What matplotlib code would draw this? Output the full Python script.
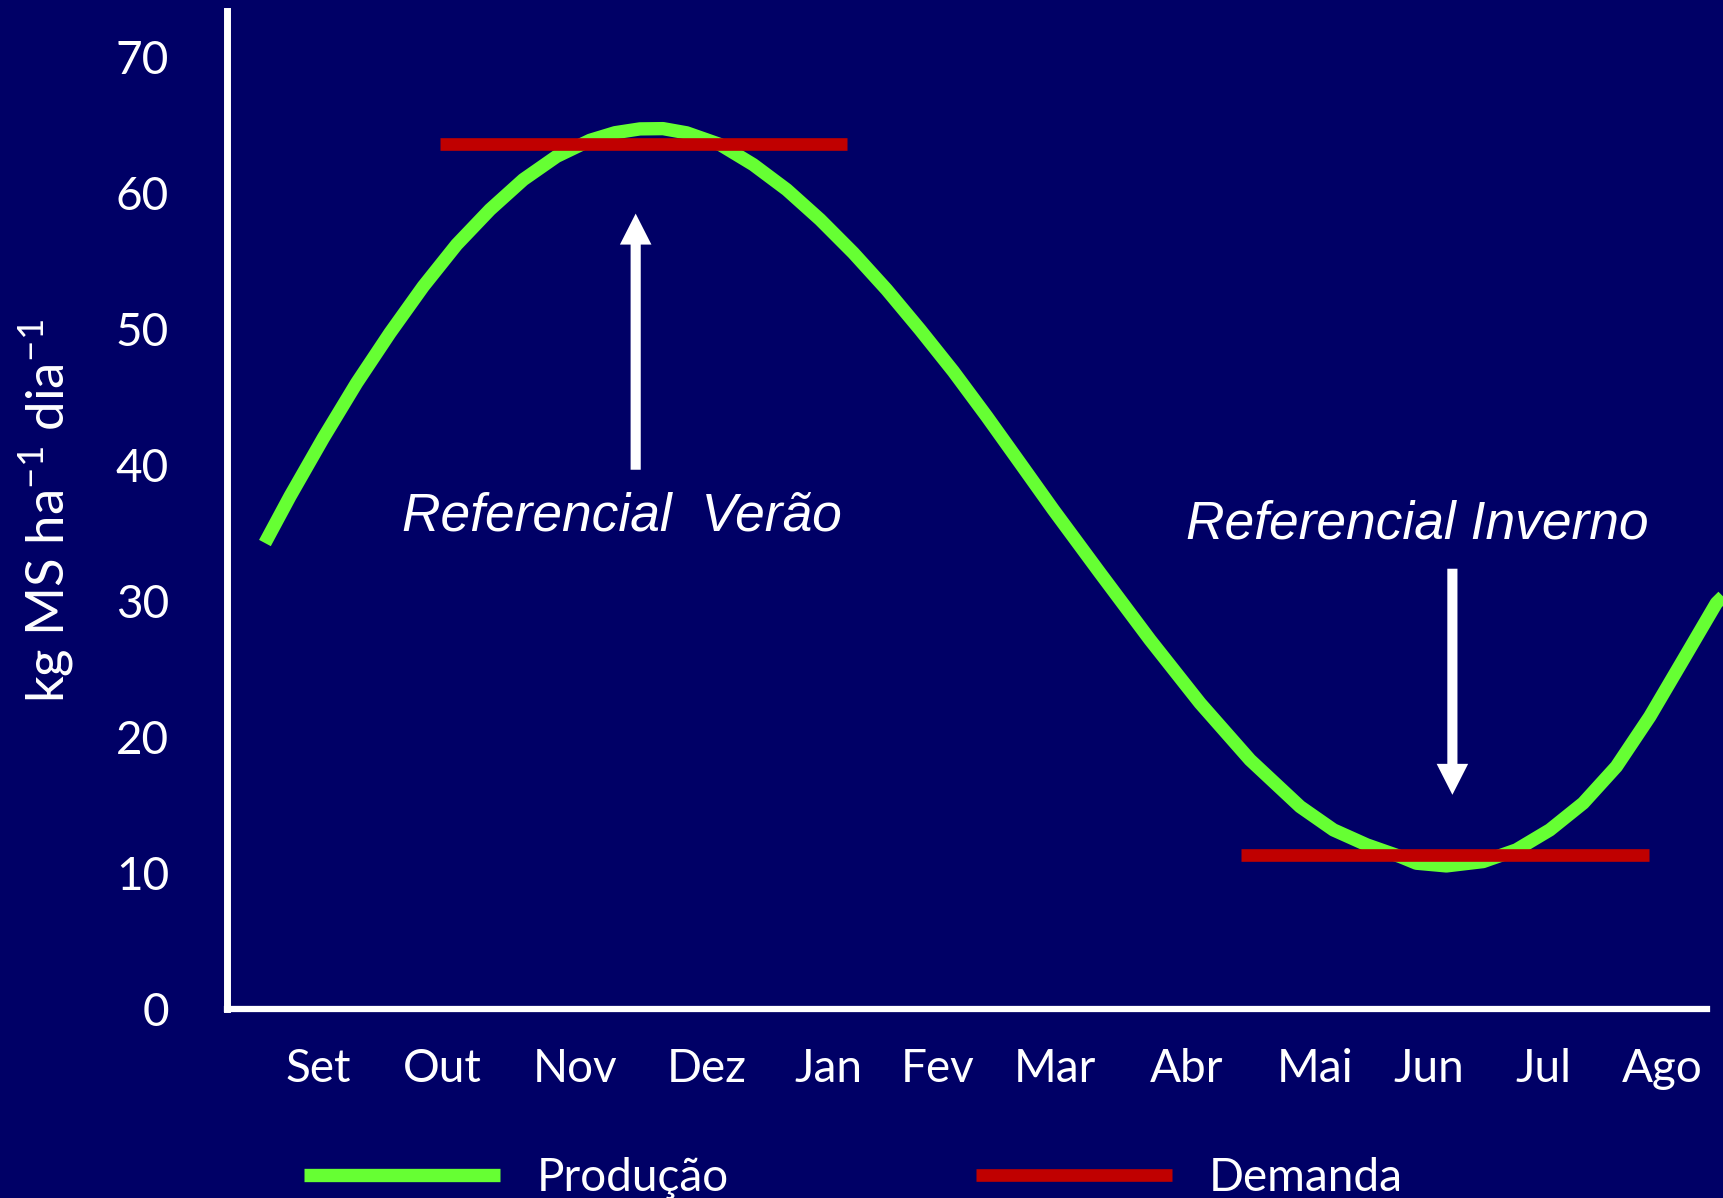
import numpy as np
import matplotlib.pyplot as plt

plt.rcParams['font.family'] = ['Lato', 'DejaVu Sans']
plt.rcParams['mathtext.fontset'] = 'custom'
plt.rcParams['mathtext.rm'] = 'Lato'

# month labels and where they sit (in month units, Set = 0)
months = ['Set', 'Out', 'Nov', 'Dez', 'Jan', 'Fev', 'Mar', 'Abr', 'Mai', 'Jun', 'Jul', 'Ago']
month_pos = [0.0, 1.01, 2.10, 3.18, 4.17, 5.07, 6.03, 7.11, 8.16, 9.09, 10.03, 11.0]

# production curve
prod_x = [-0.44, -0.235, 0.038, 0.311, 0.584, 0.857, 1.130, 1.403, 1.676, 1.949,
          2.222, 2.427, 2.631, 2.82, 3.014, 3.287, 3.559, 3.833, 4.106, 4.378,
          4.651, 4.925, 5.197, 5.471, 5.744, 6.016, 6.399, 6.808, 7.218, 7.627,
          8.037, 8.310, 8.583, 8.856, 8.989, 9.235, 9.536, 9.808, 10.082, 10.355,
          10.627, 10.901, 11.174, 11.446, 11.501]
prod_y = [34.27, 37.70, 41.99, 46.04, 49.72, 53.15, 56.22, 58.79, 61.00, 62.71,
          63.89, 64.45, 64.73, 64.75, 64.44, 63.58, 62.10, 60.26, 58.06, 55.61,
          52.91, 49.96, 46.90, 43.58, 40.15, 36.72, 32.06, 27.15, 22.49, 18.32,
          14.88, 13.17, 12.07, 11.21, 10.72, 10.52, 10.84, 11.70, 13.17, 15.14,
          17.83, 21.51, 25.68, 29.85, 30.34]

# demand references (summer / winter)
dem_summer_x = [0.99, 4.33]
dem_summer_y = 63.6
dem_winter_x = [7.55, 10.89]
dem_winter_y = 11.3

yticks = [0, 10, 20, 30, 40, 50, 60, 70]

bg = '#000066'
green = '#66FF33'
red = '#C00000'

fig = plt.figure(figsize=(17.23, 11.98), dpi=100, facecolor=bg)
ax = fig.add_axes([0.132, 0.1578, 0.868, 0.8330], facecolor=bg)

l1, = ax.plot(prod_x, prod_y, color=green, lw=9.6, solid_capstyle='butt',
              solid_joinstyle='round', label='Produção')
l2, = ax.plot(dem_summer_x, [dem_summer_y] * 2, color=red, lw=9.1,
              solid_capstyle='butt', label='Demanda')
ax.plot(dem_winter_x, [dem_winter_y] * 2, color=red, lw=9.1, solid_capstyle='butt')

ax.set_xlim(-0.747, 11.5)
ax.set_ylim(0, 73.4)

for s in ['top', 'right']:
    ax.spines[s].set_visible(False)
ax.spines['left'].set_color('white')
ax.spines['left'].set_linewidth(5)
ax.spines['bottom'].set_color('white')
ax.spines['bottom'].set_linewidth(4.5)
ax.spines['bottom'].set_bounds(-0.747, 11.37)

ax.set_xticks(month_pos)
ax.set_xticklabels(months)
ax.set_yticks(yticks)
ax.tick_params(axis='both', length=0, labelcolor='white', labelsize=33)
ax.tick_params(axis='y', pad=42)
ax.tick_params(axis='x', pad=28)

fig.text(46 / 1723, 1 - 511 / 1198, 'kg MS ha$^{\\mathregular{-1}}$ dia$^{\\mathregular{-1}}$',
         rotation=90, ha='center', va='center', color='white', fontsize=38)

# annotations
arrow_style = 'simple,head_length=22.3,head_width=22.7,tail_width=7.3'
ax.annotate('', xy=(2.596, 58.5), xytext=(2.596, 39.66),
            arrowprops=dict(arrowstyle=arrow_style, mutation_scale=1, fc='white',
                            ec='none', lw=0, shrinkA=0, shrinkB=0))
ax.annotate('', xy=(9.284, 15.75), xytext=(9.284, 32.38),
            arrowprops=dict(arrowstyle=arrow_style, mutation_scale=1, fc='white',
                            ec='none', lw=0, shrinkA=0, shrinkB=0))
ax.text(2.48, 36.2, 'Referencial  Verão', ha='center', va='center', color='white',
        fontsize=38.4, fontstyle='italic', family='Liberation Sans')
ax.text(9.0, 35.6, 'Referencial Inverno', ha='center', va='center', color='white',
        fontsize=38.4, fontstyle='italic', family='Liberation Sans')

fig.legend(handles=[l1, l2], labels=['Produção', 'Demanda'], loc='center left',
           bbox_to_anchor=(0.1764, 0.017), ncol=2, frameon=False,
           handlelength=4.28, handletextpad=0.79, columnspacing=5.4,
           borderpad=0, borderaxespad=0, fontsize=33, labelcolor='white')

fig.savefig('out.png', dpi=100, facecolor=bg)
